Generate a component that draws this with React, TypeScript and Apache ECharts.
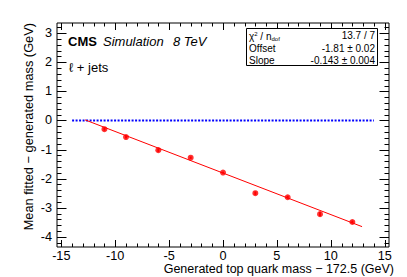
import React, { useEffect, useRef } from "react";
import * as echarts from "echarts";

// ---- data ----
const massShift = [-11, -9, -6, -3, 0, 3, 6, 9, 12];
const meanBias = [-0.3, -0.57, -1.02, -1.28, -1.79, -2.5, -2.64, -3.22, -3.49];
const biasErr = [0.05, 0.05, 0.06, 0.04, 0.03, 0.06, 0.05, 0.07, 0.05];

const fitX = [-12.8, 12.9];
const fitY = [0.02, -3.65];

const refX = [-14, 14];
const refY = [0, 0];

const xTickLabels = [-15, -10, -5, 0, 5, 10, 15];
const yTickLabels = [-4, -3, -2, -1, 0, 1, 2, 3];
const xMinorTicks = [-14, -13, -12, -11, -9, -8, -7, -6, -4, -3, -2, -1, 1, 2, 3, 4, 6, 7, 8, 9, 11, 12, 13, 14];
const yMinorTicks = [-4.2, -3.8, -3.6, -3.4, -3.2, -2.8, -2.6, -2.4, -2.2, -1.8, -1.6, -1.4, -1.2, -0.8, -0.6, -0.4, -0.2, 0.2, 0.4, 0.6, 0.8, 1.2, 1.4, 1.6, 1.8, 2.2, 2.4, 2.6, 2.8, 3.2];

const X_MIN = -15.4;
const X_MAX = 15.4;
const Y_MIN = -4.35;
const Y_MAX = 3.35;

const FONT = "'Liberation Sans', Arial, Helvetica, sans-serif";

export default function App() {
  const ref = useRef<HTMLDivElement>(null);

  useEffect(() => {
    if (!ref.current) return;
    const chart = echarts.init(ref.current, null, { renderer: "svg" });

    const tickData: number[][] = [];
    xTickLabels.forEach((v) => tickData.push([v, 0, 1]));
    xMinorTicks.forEach((v) => tickData.push([v, 0, 0]));
    yTickLabels.forEach((v) => tickData.push([v, 1, 1]));
    yMinorTicks.forEach((v) => tickData.push([v, 1, 0]));

    const points = massShift.map((x, i) => [x, meanBias[i]]);
    const errData = massShift.map((x, i) => [x, meanBias[i], biasErr[i]]);

    chart.setOption({
      animation: false,
      backgroundColor: "#ffffff",
      grid: {
        left: 57,
        right: 18,
        top: 23,
        bottom: 30,
        show: true,
        borderColor: "#000",
        borderWidth: 1,
        backgroundColor: "transparent",
      },
      xAxis: {
        type: "value",
        min: X_MIN,
        max: X_MAX,
        axisLine: { show: false },
        axisTick: { show: false },
        splitLine: { show: false },
        axisLabel: {
          customValues: xTickLabels,
          margin: 2,
          fontSize: 12.7,
          color: "#000",
          fontFamily: FONT,
        },
      },
      yAxis: {
        type: "value",
        min: Y_MIN,
        max: Y_MAX,
        axisLine: { show: false },
        axisTick: { show: false },
        splitLine: { show: false },
        axisLabel: {
          customValues: yTickLabels,
          margin: 5,
          fontSize: 12.7,
          color: "#000",
          fontFamily: FONT,
        },
      },
      series: [
        {
          type: "custom",
          silent: true,
          z: 1,
          data: tickData,
          renderItem: (params: any, api: any) => {
            const v = api.value(0);
            const side = api.value(1);
            const major = api.value(2) === 1;
            const style = { stroke: "#000", lineWidth: 1 };
            if (side === 0) {
              const b = api.coord([v, Y_MIN]);
              const t = api.coord([v, Y_MAX]);
              const len = major ? 7 : 3.5;
              const x = Math.round(b[0]) + 0.5;
              return {
                type: "group",
                children: [
                  { type: "line", shape: { x1: x, y1: b[1], x2: x, y2: b[1] - len }, style },
                  { type: "line", shape: { x1: x, y1: t[1], x2: x, y2: t[1] + len }, style },
                ],
              };
            }
            const l = api.coord([X_MIN, v]);
            const r = api.coord([X_MAX, v]);
            const len = major ? 9.5 : 4.5;
            const y = Math.round(l[1]) + 0.5;
            return {
              type: "group",
              children: [
                { type: "line", shape: { x1: l[0], y1: y, x2: l[0] + len, y2: y }, style },
                { type: "line", shape: { x1: r[0], y1: y, x2: r[0] - len, y2: y }, style },
              ],
            };
          },
        },
        {
          type: "line",
          data: refX.map((x, i) => [x, refY[i]]),
          symbol: "none",
          silent: true,
          z: 2,
          lineStyle: { color: "#0000ff", width: 2, type: [2, 1.5] },
        },
        {
          type: "line",
          data: fitX.map((x, i) => [x, fitY[i]]),
          symbol: "none",
          silent: true,
          z: 3,
          lineStyle: { color: "#ff0000", width: 1 },
        },
        {
          type: "custom",
          silent: true,
          z: 4,
          data: errData,
          renderItem: (params: any, api: any) => {
            const x = api.value(0);
            const y = api.value(1);
            const e = api.value(2);
            const lo = api.coord([x, y - e]);
            const hi = api.coord([x, y + e]);
            return {
              type: "line",
              shape: { x1: lo[0], y1: lo[1], x2: hi[0], y2: hi[1] },
              style: { stroke: "#ff0000", lineWidth: 2 },
            };
          },
        },
        {
          type: "scatter",
          data: points,
          symbol: "circle",
          symbolSize: 6,
          silent: true,
          z: 5,
          itemStyle: { color: "#ff0000" },
        },
      ],
      graphic: [
        {
          type: "text",
          left: 68,
          top: 35,
          style: { text: "CMS", font: `bold 13px ${FONT}`, fill: "#000" },
        },
        {
          type: "text",
          left: 103,
          top: 35,
          style: { text: "Simulation", font: `italic 13px ${FONT}`, fill: "#000" },
        },
        {
          type: "text",
          left: 173,
          top: 35,
          style: { text: "8 TeV", font: `italic 13px ${FONT}`, fill: "#000" },
        },
        {
          type: "text",
          left: 69,
          top: 61,
          style: { text: "ℓ + jets", font: `13px ${FONT}`, fill: "#000" },
        },
        {
          type: "rect",
          shape: { x: 246.5, y: 28.5, width: 131, height: 37 },
          style: { fill: "#fff", stroke: "#000", lineWidth: 1 },
          z: 10,
        },
        {
          type: "text",
          x: 249,
          y: 36.5,
          z: 11,
          style: {
            text: "{a|χ}{sup|2}{a| / n}{sub|dof}",
            verticalAlign: "middle",
            rich: {
              a: { font: `10px ${FONT}`, fill: "#000" },
              sup: { font: `6px ${FONT}`, fill: "#000", verticalAlign: "top", padding: [0, 0, 5, 0] },
              sub: { font: `6px ${FONT}`, fill: "#000", verticalAlign: "bottom", padding: [3, 0, 0, 0] },
            },
          },
        },
        {
          type: "text",
          x: 375,
          y: 35,
          z: 11,
          style: { text: "13.7 / 7", font: `10px ${FONT}`, fill: "#000", align: "right", verticalAlign: "middle" },
        },
        {
          type: "text",
          x: 249,
          y: 48.3,
          z: 11,
          style: { text: "Offset", font: `10px ${FONT}`, fill: "#000", verticalAlign: "middle" },
        },
        {
          type: "text",
          x: 375,
          y: 48.3,
          z: 11,
          style: { text: "-1.81 ± 0.02", font: `10px ${FONT}`, fill: "#000", align: "right", verticalAlign: "middle" },
        },
        {
          type: "text",
          x: 249,
          y: 60.5,
          z: 11,
          style: { text: "Slope", font: `10px ${FONT}`, fill: "#000", verticalAlign: "middle" },
        },
        {
          type: "text",
          x: 375,
          y: 60.5,
          z: 11,
          style: { text: "-0.143 ± 0.004", font: `10px ${FONT}`, fill: "#000", align: "right", verticalAlign: "middle" },
        },
        {
          type: "text",
          x: 394,
          y: 268.8,
          style: {
            text: "Generated top quark mass − 172.5 (GeV)",
            font: `12.5px ${FONT}`,
            fill: "#000",
            align: "right",
            verticalAlign: "middle",
          },
        },
        {
          type: "text",
          x: 28,
          y: 23,
          rotation: Math.PI / 2,
          style: {
            text: "Mean fitted − generated mass (GeV)",
            font: `12.8px ${FONT}`,
            fill: "#000",
            align: "right",
            verticalAlign: "middle",
          },
        },
      ],
    });

    return () => chart.dispose();
  }, []);

  return (
    <div
      ref={ref}
      style={{ position: "fixed", left: 0, top: 0, width: 407, height: 277, background: "#fff" }}
    />
  );
}
